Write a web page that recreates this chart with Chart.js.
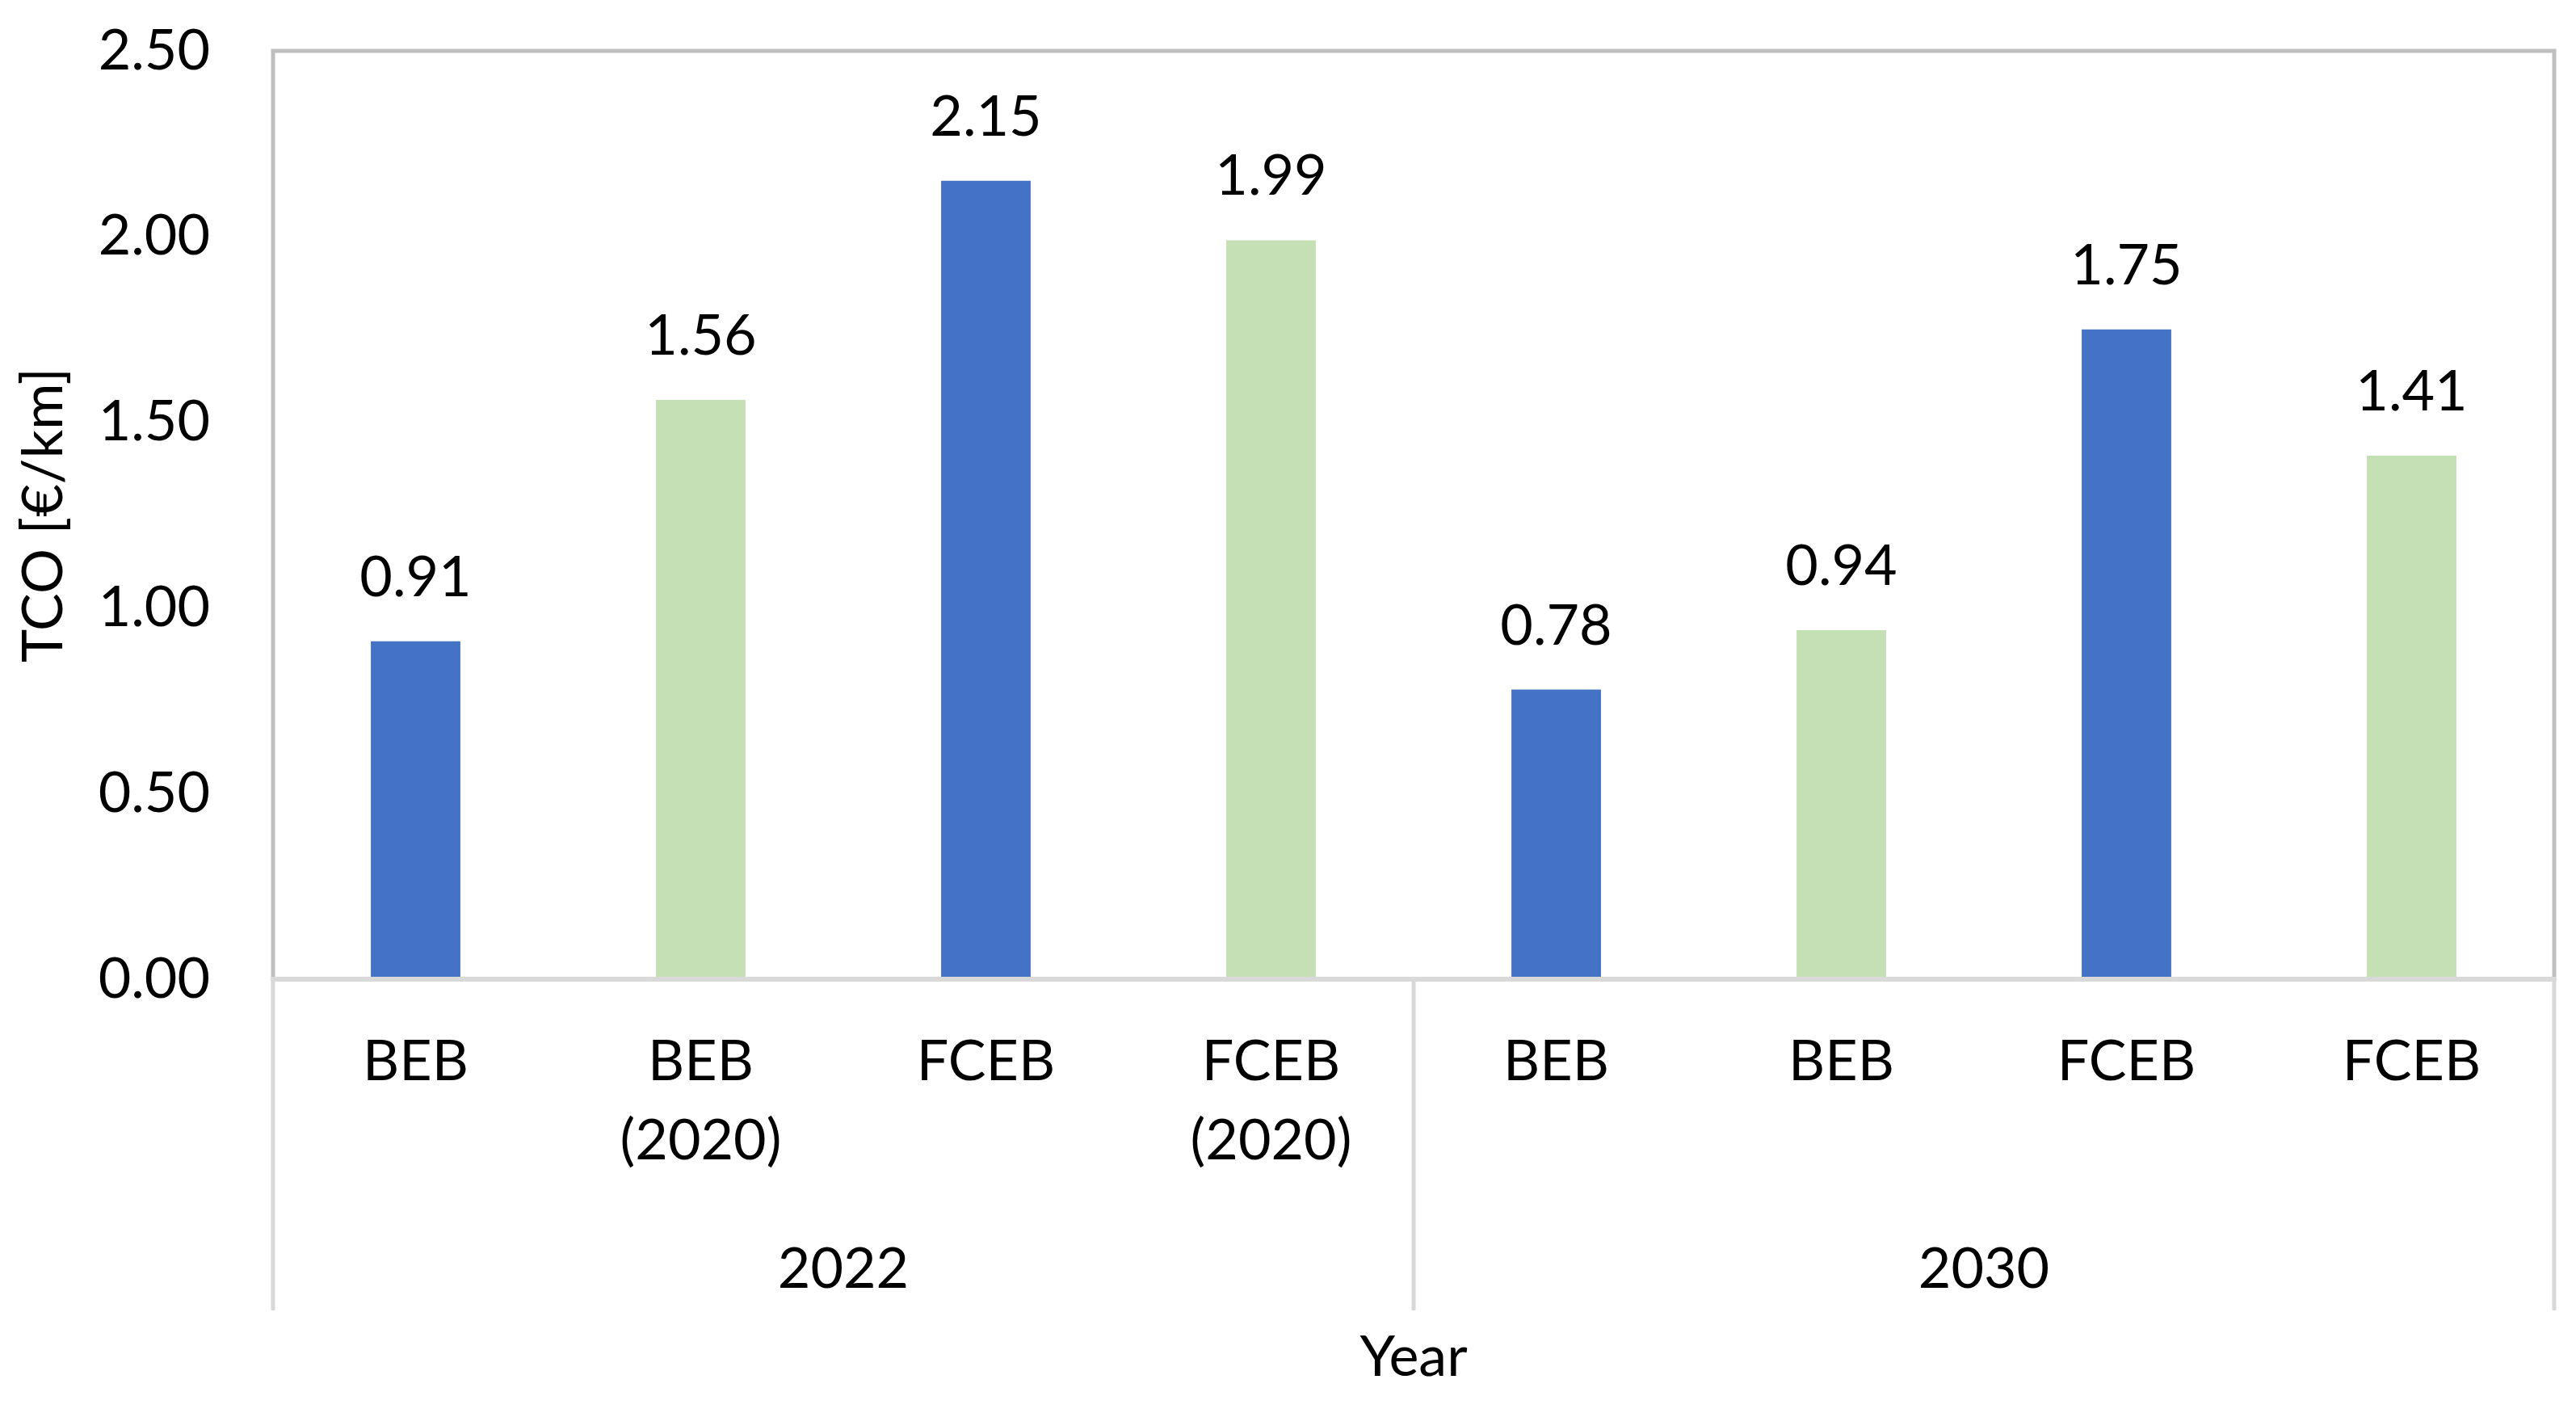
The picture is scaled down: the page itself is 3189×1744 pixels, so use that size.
<!DOCTYPE html>
<html>
<head>
<meta charset="utf-8">
<script src="https://cdn.jsdelivr.net/npm/chart.js@4.4.1/dist/chart.umd.min.js"></script>
<style>
html,body{margin:0;padding:0;background:#ffffff;}
#wrap{width:3189px;height:1744px;}
</style>
</head>
<body>
<div id="wrap"><canvas id="c" width="3189" height="1744"></canvas></div>
<script>
// ---- data ----
const categories = [["BEB"], ["BEB", "(2020)"], ["FCEB"], ["FCEB", "(2020)"], ["BEB"], ["BEB"], ["FCEB"], ["FCEB"]];
const groups = ["2022", "2030"];
const tcoValues = [0.91, 1.56, 2.15, 1.99, 0.78, 0.94, 1.75, 1.41];
const yMin = 0;
const yMax = 2.5;
const yStep = 0.5;
const yTitle = "TCO [€/km]";
const xTitle = "Year";

// ---- styles ----
const BLUE = "#4472C4";
const GREEN = "#C5E0B4";
const barColors = tcoValues.map((v, i) => (i % 2 === 0 ? BLUE : GREEN));
const FONT = "Lato";
const FS = 70;

const framePlugin = {
  id: "frame",
  afterDatasetsDraw(chart) {
    const { ctx, chartArea, scales } = chart;
    const { left, right, top, bottom } = chartArea;
    const x = scales.x, x2 = scales.x2;
    ctx.save();
    // plot-area border (left, top, right)
    ctx.strokeStyle = "#BFBFBF";
    ctx.lineWidth = 5;
    ctx.lineCap = "square";
    ctx.beginPath();
    ctx.moveTo(left, bottom);
    ctx.lineTo(left, top);
    ctx.lineTo(right, top);
    ctx.lineTo(right, bottom);
    ctx.stroke();
    // category axis line and group separators
    ctx.strokeStyle = "#D9D9D9";
    ctx.lineCap = "butt";
    ctx.lineWidth = 6;
    ctx.beginPath();
    ctx.moveTo(left - 2, bottom);
    ctx.lineTo(right + 2, bottom);
    ctx.stroke();
    const mid = (x.getPixelForValue(3) + x.getPixelForValue(4)) / 2;
    const sepEnd = x2.top + 110;
    ctx.lineWidth = 5;
    [left, mid, right].forEach(px => {
      ctx.beginPath();
      ctx.moveTo(px, bottom);
      ctx.lineTo(px, sepEnd);
      ctx.stroke();
    });
    // data labels
    ctx.fillStyle = "#000000";
    ctx.font = FS + "px " + FONT;
    ctx.textAlign = "center";
    ctx.textBaseline = "alphabetic";
    const meta = chart.getDatasetMeta(0);
    meta.data.forEach((bar, i) => {
      ctx.fillText(tcoValues[i].toFixed(2), bar.x, bar.y - 56);
    });
    ctx.restore();
  }
};

function draw() {
  new Chart(document.getElementById("c"), {
    type: "bar",
    data: {
      labels: categories,
      datasets: [{
        data: tcoValues,
        backgroundColor: barColors,
        borderWidth: 0,
        barPercentage: 1.0,
        categoryPercentage: 0.314
      }]
    },
    options: {
      responsive: false,
      devicePixelRatio: 1,
      animation: false,
      layout: { padding: { left: 0, right: 27, top: 63, bottom: 0 } },
      plugins: { legend: { display: false }, tooltip: { enabled: false } },
      scales: {
        x: {
          type: "category",
          position: "bottom",
          weight: 0,
          offset: true,
          grid: { display: false, drawTicks: false },
          border: { display: false },
          ticks: {
            autoSkip: false, maxRotation: 0, minRotation: 0,
            color: "#000000",
            font: { family: FONT, size: FS, lineHeight: 1.39 },
            padding: 54
          },
          afterFit(s) { s.height = 300; }
        },
        x2: {
          type: "category",
          labels: groups,
          position: "bottom",
          weight: 1,
          offset: true,
          grid: { display: false, drawTicks: false },
          border: { display: false },
          ticks: {
            autoSkip: false, maxRotation: 0, minRotation: 0,
            color: "#000000",
            font: { family: FONT, size: FS },
            padding: 17
          },
          title: {
            display: true, text: xTitle, color: "#000000",
            font: { family: FONT, size: FS },
            padding: { top: 0, bottom: 22 }
          },
          afterFit(s) { s.height = 232; }
        },
        y: {
          min: yMin, max: yMax,
          grid: { display: false, drawTicks: false },
          border: { display: false },
          ticks: {
            stepSize: yStep,
            color: "#000000",
            font: { family: FONT, size: FS },
            padding: 78,
            callback: v => Number(v).toFixed(2)
          },
          title: {
            display: true, text: yTitle, color: "#000000",
            font: { family: FONT, size: FS },
            padding: { top: 12, bottom: 0 }
          },
          afterFit(s) { s.width = 338; s.paddingTop = 0; s.paddingBottom = 0; }
        }
      }
    },
    plugins: [framePlugin]
  });
}

if (document.fonts && document.fonts.load) {
  document.fonts.load(FS + "px " + FONT).then(draw, draw);
} else {
  draw();
}
</script>
</body>
</html>
